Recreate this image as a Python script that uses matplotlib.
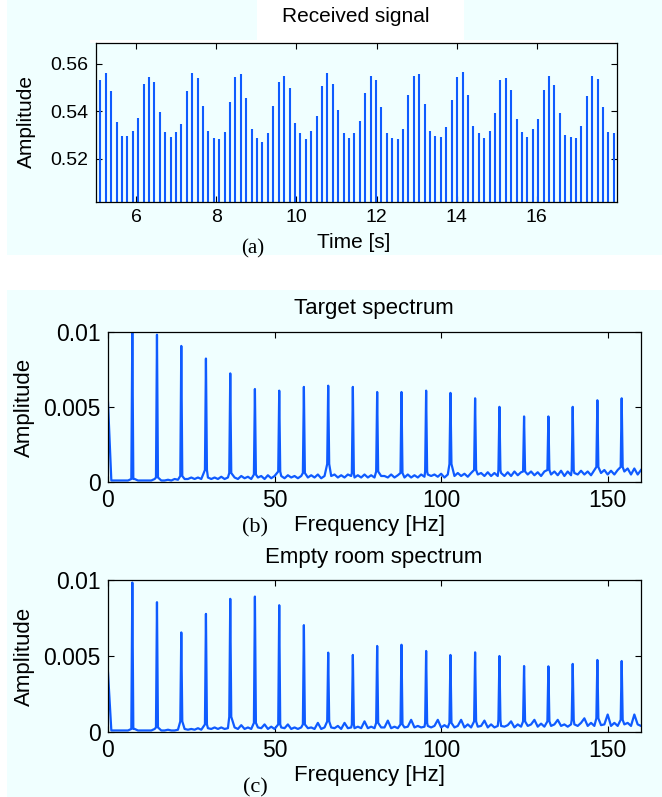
import numpy as np
import matplotlib
matplotlib.use('Agg')
import matplotlib.pyplot as plt
from matplotlib.patches import Rectangle

W, H = 662, 797
BG = '#F0FFFF'
BLUE = '#0F5BFF'

# ---- panel (a): received signal, one value per sample ----
t_start = 5.107   # s, first sample
t_step = 0.1349   # s
signal = [
    0.5530, 0.5561, 0.5484, 0.5357, 0.5297, 0.5297, 0.5318, 0.5373, 0.5516, 0.5545,
    0.5524, 0.5398, 0.5312, 0.5293, 0.5312, 0.5347, 0.5484, 0.5561, 0.5540, 0.5423,
    0.5318, 0.5287, 0.5283, 0.5312, 0.5440, 0.5545, 0.5555, 0.5454, 0.5326, 0.5287,
    0.5272, 0.5307, 0.5423, 0.5524, 0.5549,
    0.5498, 0.5353, 0.5307, 0.5283, 0.5318, 0.5382, 0.5505, 0.5561, 0.5516, 0.5404,
    0.5307, 0.5287, 0.5307, 0.5359, 0.5475, 0.5549, 0.5530, 0.5419, 0.5307, 0.5287,
    0.5283, 0.5327, 0.5469, 0.5549, 0.5555, 0.5429, 0.5318, 0.5297, 0.5293, 0.5332,
    0.5448, 0.5545, 0.5565, 0.5469, 0.5337, 0.5307, 0.5287, 0.5318,
    0.5395, 0.5530, 0.5540, 0.5490, 0.5369, 0.5314, 0.5293, 0.5324, 0.5369, 0.5490,
    0.5550, 0.5510, 0.5395, 0.5299, 0.5293, 0.5289, 0.5339, 0.5465, 0.5550, 0.5535,
    0.5418, 0.5314, 0.5310,
]

# ---- panels (b), (c): spectra (amplitudes in 1e-4) ----
peak_freq = [7.3, 14.7, 22.0, 29.4, 36.7, 44.1, 51.4, 58.8, 66.1, 73.5, 80.8,
             88.1, 95.5, 102.8, 110.2, 117.5, 124.9, 132.2, 139.5, 146.9, 154.2]

target_peaks = [101, 98.2, 90.7, 82.3, 72.4, 62.0, 60.9, 63.4, 64.2, 63.4, 60.0,
                60.0, 60.9, 59.4, 55.8, 50.1, 43.7, 43.7, 50.1, 54.5, 55.8]
target_skirt = [2, 3, 4, 8, 6, 5, 7, 6, 12, 6, 7, 6, 7, 12, 8, 8, 7, 8, 8, 10, 10]
# noise floor read every 1 Hz, 0..160 Hz
target_floor = [
    53, 1, 1, 1, 1, 1, 1, 2, 2, 1,
    1, 1, 1, 1, 2, 2, 1, 1, 1.5, 1,
    2, 1.5, 3, 2, 2, 3, 2, 3, 2, 4,
    3, 2, 3, 2, 3.5, 2, 3, 4, 3, 2,
    4, 2.5, 3.5, 2, 4, 3, 4, 2, 4.5, 2.5,
    4, 3.5, 4, 2.5, 4.5, 3, 4, 2.5, 4, 4,
    3, 4.5, 3, 5, 2.5, 4, 5, 4, 5, 3,
    4.5, 3, 5, 4, 3, 4.5, 3, 5, 3, 4.5,
    3, 5, 4, 4, 3, 5, 3, 4.5, 5, 3,
    5, 3, 4.5, 3, 5, 3.5, 5, 4, 5, 3.5,
    5.5, 3, 5, 6, 4, 6, 4, 5.5, 3.5, 6,
    5, 5, 6, 4, 6.5, 4, 6, 4, 6, 4,
    6.5, 4, 7, 4.5, 6.5, 6, 5, 7, 4.5, 6.5,
    4, 7, 6, 5, 7, 4.5, 7.5, 4, 7, 4.5,
    6, 5, 7.5, 5, 7, 4.5, 8, 7, 6, 8,
    5, 7.5, 5, 8, 8, 7, 9, 5, 9, 5,
    8,
]

empty_peaks = [98.3, 85.4, 65.5, 77.7, 87.6, 89.1, 83.4, 70.3, 52.2, 50.7, 56.6,
               57.4, 53.3, 50.7, 52.4, 50.0, 43.4, 43.2, 44.8, 47.4, 46.7]
empty_skirt = [2, 3, 7, 5, 10, 6, 5, 5, 7, 5, 6, 5, 6, 6, 7, 8, 7, 7, 8, 9, 8]
empty_floor = [
    39, 1, 1, 1, 1, 1, 1, 2, 2, 1,
    1, 1, 1, 1, 2, 2, 1, 1, 1.5, 1,
    1, 1.5, 3, 2, 1.5, 2, 1.5, 2.5, 1.5, 3,
    2.5, 2, 3, 2, 3, 2, 2.5, 4, 3, 2,
    4.5, 2, 3, 2, 3, 3, 2.5, 5, 2, 3.5,
    2, 3, 3, 2.5, 5, 2, 3, 2, 3, 3,
    2.5, 3, 2, 6, 2, 3, 4, 3, 2.5, 4,
    2, 6, 2.5, 3, 2.5, 3.5, 2.5, 7, 2.5, 3.5,
    2.5, 4, 3, 3, 7.5, 2.5, 3.5, 2.5, 4, 3,
    3.5, 8, 3, 4, 3, 3.5, 4, 3, 4, 8,
    3, 4.5, 3, 4, 3, 4, 8, 3, 5, 3,
    4, 3.5, 4, 7.5, 3, 5, 3, 4, 4, 3.5,
    4.5, 7, 3, 5, 3.5, 4.5, 4, 5, 8, 3.5,
    5.5, 3.5, 5, 4, 5, 8, 4, 5, 3.5, 5,
    5, 4, 6, 9, 4, 6, 4, 5, 4.5, 5,
    11.5, 4, 6, 4, 6, 5, 6, 4, 11.5, 5,
    4,
]


def spectrum(floor, peaks, skirt):
    # merge the floor samples with a narrow spike per harmonic
    ff = np.arange(len(floor), dtype=float)
    fa = np.array(floor) * 1e-4
    pf = np.array(peak_freq)
    keep = np.abs(ff[:, None] - pf[None, :]).min(axis=1) > 0.45
    sk = np.array(skirt) * 1e-4
    f = np.concatenate([ff[keep], pf - 0.3, pf, pf + 0.3])
    a = np.concatenate([fa[keep], sk, np.array(peaks) * 1e-4, sk])
    o = np.argsort(f)
    return f[o], a[o]


def box(x0, y0, x1, y1):
    # pixel box (top-left origin) -> figure fraction rect
    return [x0 / W, 1 - y1 / H, (x1 - x0) / W, (y1 - y0) / H]


def ftext(x, y, s, **kw):
    fig.text(x / W, 1 - y / H, s, ha='center', va='center', **kw)


def patch(x0, y0, x1, y1, color, z):
    fig.patches.append(Rectangle((x0 / W, 1 - y1 / H), (x1 - x0) / W, (y1 - y0) / H,
                                 transform=fig.transFigure, facecolor=color,
                                 edgecolor='none', zorder=z))


def style(ax, size):
    ax.set_facecolor(BG)
    for sp in ax.spines.values():
        sp.set_linewidth(0.9)
    ax.tick_params(direction='in', top=True, right=True, length=4, width=0.8,
                   labelsize=size, pad=5.3)


plt.rcParams['font.family'] = ['Liberation Sans', 'DejaVu Sans']
fig = plt.figure(figsize=(W / 100, H / 100), dpi=100, facecolor='white')

# light cyan panel backgrounds, white gaps
patch(7, 0, W, 255, BG, -10)
patch(7, 290, W, H, BG, -10)
patch(257, 0, 464, 42, 'white', -9)
patch(90, 40, 615, 43, 'white', -9)

# (a)
ax = fig.add_axes(box(96, 43, 617, 202))
style(ax, 14)
t = t_start + t_step * np.arange(len(signal))
ax.vlines(t, 0.50, signal, color=BLUE, linewidth=1.5)
ax.set_xlim(5, 18)
ax.set_ylim(0.5019, 0.5687)
ax.set_xticks([6, 8, 10, 12, 14, 16])
ax.set_yticks([0.52, 0.54, 0.56])
ax.set_yticklabels(['0.52', '0.54', '0.56'])
ftext(356, 17, 'Received signal', fontsize=15)
ftext(354, 243, 'Time [s]', fontsize=15)
ftext(26, 122, 'Amplitude', fontsize=15, rotation=90)
ftext(253, 249, '(a)', fontsize=15, family='Liberation Serif')

# (b) and (c)
panels = [
    (332, 482, target_floor, target_peaks, target_skirt, 'Target spectrum', '(b)', 309, 525, 528),
    (580, 732, empty_floor, empty_peaks, empty_skirt, 'Empty room spectrum', '(c)', 557, 775, 788),
]
for top, bot, floor, peaks, skirt, title, tag, ty, ly, gy in panels:
    ax = fig.add_axes(box(108, top, 641, bot))
    style(ax, 16.5)
    f, a = spectrum(floor, peaks, skirt)
    ax.plot(f, a, color=BLUE, linewidth=1.6)
    ax.set_xlim(0, 160)
    ax.set_ylim(0, 0.01)
    ax.set_xticks([0, 50, 100, 150])
    ax.set_yticks([0, 0.005, 0.01])
    ax.set_yticklabels(['0', '0.005', '0.01'])
    ftext(374, ty, title, fontsize=16)
    ftext(370, ly, 'Frequency [Hz]', fontsize=16)
    ftext(24, (top + bot) / 2, 'Amplitude', fontsize=16, rotation=90)
    ftext(255, gy, tag, fontsize=16, family='Liberation Serif')

fig.savefig('out.png', dpi=100, facecolor=fig.get_facecolor())
